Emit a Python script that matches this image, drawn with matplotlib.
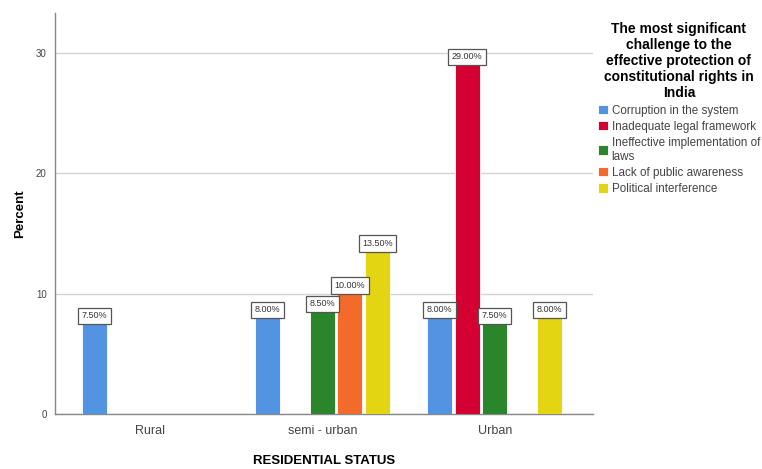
import numpy as np
import matplotlib.pyplot as plt

plt.rcParams['font.family'] = ['Liberation Sans', 'DejaVu Sans']

# percent of respondents by residential status
groups = ['Rural', 'semi - urban', 'Urban']
series = ['Corruption in the system', 'Inadequate legal framework',
          'Ineffective implementation of\nlaws', 'Lack of public awareness',
          'Political interference']
corruption = [7.5, 8.0, 8.0]
inadequate = [np.nan, np.nan, 29.0]
ineffective = [np.nan, 8.5, 7.5]
awareness = [np.nan, 10.0, np.nan]
political = [np.nan, 13.5, 8.0]
values = [corruption, inadequate, ineffective, awareness, political]
colors = ['#5294e2', '#d50032', '#2b862b', '#f26b2a', '#e3d511']

fig = plt.figure(figsize=(7.62, 4.69), dpi=100)
ax = fig.add_axes([55 / 762, 55 / 469, 538 / 762, 401 / 469])

x = np.arange(len(groups))
pitch = 0.16
width = 0.145
for i, (vals, col, name) in enumerate(zip(values, colors, series)):
    pos = x + (i - 2) * pitch
    bars = ax.bar(pos, vals, width, color=col, label=name,
                  edgecolor='white', linewidth=0.6, zorder=3)
    for b, v in zip(bars, vals):
        if np.isnan(v):
            continue
        ax.annotate(f'{v:.2f}%', (b.get_x() + b.get_width() / 2, v),
                    xytext=(0, 2.5), textcoords='offset points',
                    ha='center', va='bottom', fontsize=6.5, color='#333333',
                    bbox=dict(boxstyle='square,pad=0.4', fc='white',
                              ec='#555555', lw=0.9), zorder=5)

ax.set_xlim(-0.55, 2.57)
ax.set_ylim(0, 33.3)
ax.set_yticks([0, 10, 20, 30])
ax.set_xticks(x)
ax.set_xticklabels(groups, fontsize=9, color='#444444')
ax.tick_params(axis='y', labelsize=7, colors='#444444', length=0, pad=6)
ax.tick_params(axis='x', length=0, pad=8)
ax.yaxis.grid(True, color='#d4d4d4', lw=1, zorder=0)
for s in ['top', 'right']:
    ax.spines[s].set_visible(False)
for s in ['left', 'bottom']:
    ax.spines[s].set_color('#888888')
    ax.spines[s].set_linewidth(1)

ax.set_ylabel('Percent', fontsize=9.5, fontweight='bold', labelpad=7)
ax.set_xlabel('RESIDENTIAL STATUS', fontsize=9.5, fontweight='bold', labelpad=13)

leg = ax.legend(loc='upper left', bbox_to_anchor=(1.0, 0.99), frameon=False,
                fontsize=8.4, handlelength=0.9, handleheight=0.9,
                handletextpad=0.3, labelspacing=0.35, borderaxespad=0,
                title='The most significant\nchallenge to the\neffective protection of\nconstitutional rights in\nIndia',
                title_fontproperties={'weight': 'bold', 'size': 10})
leg.get_title().set_multialignment('center')
leg.get_title().set_linespacing(1.2)
for t in leg.get_texts():
    t.set_color('#444444')
    t.set_linespacing(1.2)

fig.savefig('out.png', dpi=100)
